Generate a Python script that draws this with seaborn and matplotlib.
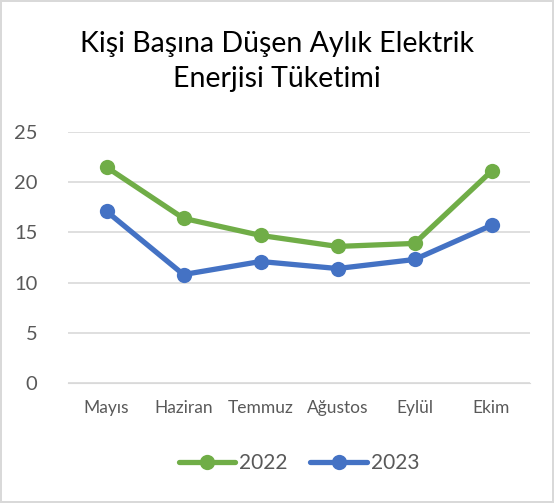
import matplotlib
matplotlib.use("Agg")
import matplotlib.pyplot as plt
import seaborn as sns
import pandas as pd

months = ["Mayıs", "Haziran", "Temmuz", "Ağustos", "Eylül", "Ekim"]
years = ["2022", "2023"]
values_2022 = [21.5, 16.4, 14.7, 13.6, 13.9, 21.1]
values_2023 = [17.1, 10.8, 12.1, 11.4, 12.3, 15.7]

df = pd.DataFrame({
    "Ay": months * 2,
    "Yıl": [years[0]] * len(months) + [years[1]] * len(months),
    "Değer": values_2022 + values_2023,
})

sns.set_style("white")
plt.rcParams["font.family"] = ["Lato", "DejaVu Sans"]

fig = plt.figure(figsize=(5.54, 5.03), dpi=100)
fig.patch.set_edgecolor("#D9D9D9")
fig.patch.set_linewidth(1.5)
ax = fig.add_axes([68 / 554, 0.2386, 462 / 554, 0.499])

palette = {"2022": "#70AD47", "2023": "#4472C4"}
sns.lineplot(data=df, x="Ay", y="Değer", hue="Yıl", palette=palette, ax=ax,
             marker="o", markersize=11, markeredgewidth=0, linewidth=3.8, sort=False)

ax.set_xlim(-0.5, 5.5)
ax.set_ylim(0, 25)
ax.set_yticks([0, 5, 10, 15, 20, 25])
ax.grid(axis="y", color="#D9D9D9", linewidth=1.2)
ax.set_axisbelow(True)
for s in ["left", "right", "top"]:
    ax.spines[s].set_visible(False)
ax.spines["bottom"].set_color("#D9D9D9")
ax.tick_params(axis="both", length=0, colors="#595959")
ax.tick_params(axis="x", labelsize=12.5, pad=12)
ax.tick_params(axis="y", labelsize=14.5, pad=22)
ax.set_xlabel("")
ax.set_ylabel("")

fig.text(0.5, 0.912, "Kişi Başına Düşen Aylık Elektrik", ha="center", va="center",
         fontsize=20.5, color="#000000")
fig.text(0.5, 0.842, "Enerjisi Tüketimi", ha="center", va="center",
         fontsize=20.5, color="#000000")

ax.legend(loc="center", bbox_to_anchor=(0.5, -0.32), ncol=2, frameon=False,
          fontsize=15, labelcolor="#595959", handlelength=2.7, columnspacing=1.1,
          handletextpad=0.2, title=None)

fig.savefig("out.png", dpi=100)
